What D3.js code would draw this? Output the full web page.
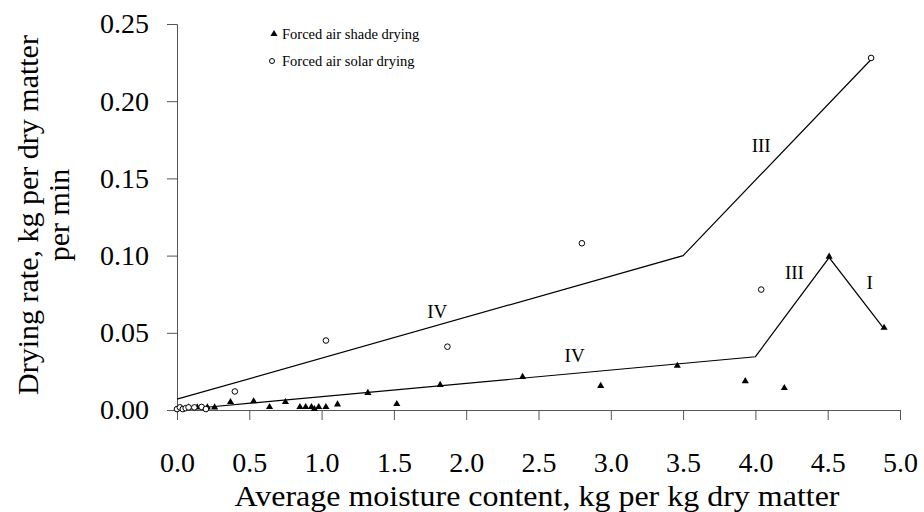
<!DOCTYPE html>
<html>
<head>
<meta charset="utf-8">
<script src="https://cdn.jsdelivr.net/npm/d3@7"></script>
<style>
  body { margin: 0; background: #fff; }
  text { font-family: "Liberation Serif", "Times New Roman", serif; fill: #000; }
</style>
</head>
<body>
<svg id="chart"></svg>
<script>
// values
const xTicks = [0, 0.5, 1, 1.5, 2, 2.5, 3, 3.5, 4, 4.5, 5];
const yTicks = [0, 0.05, 0.1, 0.15, 0.2, 0.25];

const shadeX = [0.03, 0.08, 0.14, 0.21, 0.26, 0.37, 0.53, 0.64, 0.75, 0.85, 0.89, 0.93, 0.95, 0.98, 1.03, 1.11, 1.32, 1.52, 1.82, 2.39, 2.93, 3.46, 3.93, 4.20, 4.51, 4.89];
const shadeY = [0.000, 0.001, 0.001, 0.001, 0.001, 0.0045, 0.005, 0.0013, 0.0045, 0.0013, 0.0013, 0.0013, 0.0, 0.0013, 0.0013, 0.003, 0.0104, 0.0032, 0.0156, 0.0208, 0.015, 0.028, 0.018, 0.0136, 0.0987, 0.0526];

const solarX = [0.0, 0.02, 0.04, 0.06, 0.08, 0.12, 0.17, 0.20, 0.40, 1.03, 1.87, 2.80, 4.04, 4.80];
const solarY = [0.0006, 0.0017, 0.0006, 0.0012, 0.0017, 0.0017, 0.002, 0.0006, 0.012, 0.045, 0.041, 0.108, 0.078, 0.228];

// fitted stage lines
const solarFitX = [0, 3.5, 4.8];
const solarFitY = [0.007, 0.1, 0.227];
const shadeFitX = [0.15, 4.0, 4.51, 4.89];
const shadeFitY = [0.0013, 0.0345, 0.0987, 0.0526];

// stage labels
const stageText = ["III", "IV", "IV", "III", "I"];
const stageX = [4.04, 1.80, 2.75, 4.27, 4.79];
const stageY = [0.1714, 0.0636, 0.0357, 0.0890, 0.0825];

const legendLabels = ["Forced air shade drying", "Forced air solar drying"];

const width = 924;
const height = 512;
const margin = {top: 24, right: 24, bottom: 102, left: 177};

const svg = d3.select("#chart")
    .attr("width", width)
    .attr("height", height)
    .attr("viewBox", [0, 0, width, height]);

const x = d3.scaleLinear()
    .domain([0, 5])
    .range([margin.left, width - margin.right]);

const y = d3.scaleLinear()
    .domain([0, 0.25])
    .range([height - margin.bottom, margin.top]);

// axes
svg.append("g")
    .attr("transform", `translate(0,${y(0)})`)
    .call(d3.axisBottom(x).tickValues(xTicks).tickFormat(d3.format(".1f")).tickSizeOuter(0).tickSize(10).tickPadding(32))
    .call(g => g.selectAll("line,path").attr("stroke", "#555"))
    .call(g => g.selectAll("text").style("font-size", "28px").style("font-family", "Liberation Serif"));

svg.append("g")
    .attr("transform", `translate(${x(0)},0)`)
    .call(d3.axisLeft(y).tickValues(yTicks).tickFormat(d3.format(".2f")).tickSizeOuter(0).tickSize(10).tickPadding(18))
    .call(g => g.selectAll("line,path").attr("stroke", "#555"))
    .call(g => g.selectAll("text").style("font-size", "28px").style("font-family", "Liberation Serif"));

// axis titles
svg.append("text")
    .attr("x", 537)
    .attr("y", 506)
    .attr("text-anchor", "middle")
    .attr("textLength", 605)
    .attr("lengthAdjust", "spacingAndGlyphs")
    .style("font-size", "30px")
    .text("Average moisture content, kg per kg dry matter");

const yTitle = svg.append("text")
    .attr("transform", "translate(27,215) rotate(-90)")
    .attr("text-anchor", "middle")
    .style("font-size", "30px");
yTitle.append("tspan").attr("x", 0).attr("dy", "0.35em").text("Drying rate, kg per dry matter");
yTitle.append("tspan").attr("x", 0).attr("dy", "1.05em").text("per min");

// fitted lines
const line = d3.line().x(d => x(d[0])).y(d => y(d[1]));
svg.append("path")
    .datum(d3.zip(solarFitX, solarFitY))
    .attr("d", line)
    .attr("fill", "none")
    .attr("stroke", "#000")
    .attr("stroke-width", 1.2);
svg.append("path")
    .datum(d3.zip(shadeFitX, shadeFitY))
    .attr("d", line)
    .attr("fill", "none")
    .attr("stroke", "#000")
    .attr("stroke-width", 1.2);

// points
const tri = d3.symbol().type(d3.symbolTriangle).size(22);
svg.append("g")
    .selectAll("path")
    .data(d3.zip(shadeX, shadeY))
    .join("path")
    .attr("d", tri)
    .attr("transform", d => `translate(${x(d[0])},${y(d[1]) - 1})`)
    .attr("fill", "#000");

svg.append("g")
    .selectAll("circle")
    .data(d3.zip(solarX, solarY))
    .join("circle")
    .attr("cx", d => x(d[0]))
    .attr("cy", d => y(d[1]))
    .attr("r", 2.8)
    .attr("fill", "#fff")
    .attr("stroke", "#000")
    .attr("stroke-width", 1);

// stage labels
svg.append("g")
    .selectAll("text")
    .data(d3.zip(stageText, stageX, stageY))
    .join("text")
    .attr("x", d => x(d[1]))
    .attr("y", d => y(d[2]))
    .attr("dy", "0.35em")
    .attr("text-anchor", "middle")
    .style("font-size", "19px")
    .text(d => d[0]);

// legend
const legend = svg.append("g").attr("transform", "translate(272,34)");
legend.append("path").attr("d", tri).attr("transform", "translate(2,0)").attr("fill", "#000");
legend.append("circle").attr("cy", 27).attr("r", 2.5).attr("fill", "#fff").attr("stroke", "#000");
legend.selectAll("text")
    .data(legendLabels)
    .join("text")
    .attr("x", 10)
    .attr("y", (d, i) => i * 27)
    .attr("dy", "0.35em")
    .style("font-size", "14.5px")
    .text(d => d);
</script>
</body>
</html>
